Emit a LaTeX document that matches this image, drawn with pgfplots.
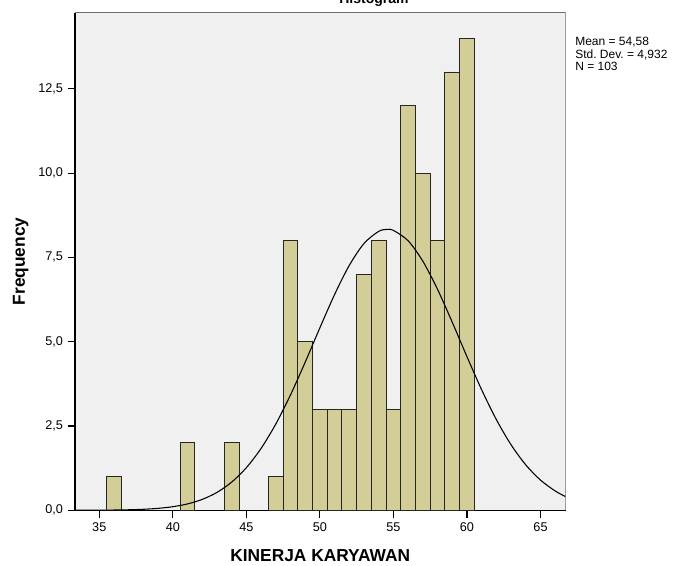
\documentclass[border=0pt]{standalone}
\usepackage{pgfplots}
\pgfplotsset{compat=1.18}
\usepackage{fontspec}
\setmainfont{Liberation Sans}
\frenchspacing
\definecolor{barTan}{HTML}{D3CE97}
\definecolor{plotBg}{HTML}{F0F0F0}
\definecolor{frameGray}{HTML}{6E6E6E}

\begin{document}
\begin{tikzpicture}
\begin{axis}[
    at={(0,0)}, anchor=south west,
    scale only axis,
    width=367.9pt, height=373.2pt,
    xmin=33.35, xmax=66.7,
    ymin=0, ymax=14.76,
    axis x line*=bottom,
    axis y line*=left,
    axis line style={black, line width=0.8pt},
    axis background/.style={fill=plotBg},
    xtick={35,40,...,65},
    ytick={0,2.5,5,7.5,10,12.5},
    tick align=outside,
    major tick length=5.5pt,
    tick style={black, line width=0.8pt},
    /pgf/number format/assume math mode=true,
    ticklabel style={font=\fontsize{9.5}{11}\selectfont},
    yticklabel style={/pgf/number format/.cd, fixed, fixed zerofill, precision=1, use comma},
    xlabel={KINERJA KARYAWAN},
    ylabel={Frequency},
    label style={font=\fontsize{13}{15}\bfseries},
    xlabel style={at={([yshift=-38.5pt]axis description cs:0.5,0)}, anchor=base},
    ylabel style={at={([xshift=-37.5pt]axis description cs:0,0.5)}, anchor=base},
    clip=true,
]
% histogram counts, bins of width 1 centred on integers
\addplot[ybar, bar width=1, fill=barTan, draw=black!85, line width=0.7pt] coordinates {
    (36,1) (41,2) (44,2) (47,1) (48,8) (49,5) (50,3) (51,3) (52,3)
    (53,7) (54,8) (55,3) (56,12) (57,10) (58,8) (59,13) (60,14)
};
% normal curve (mean 54,58, sd 4,932, N 103)
\addplot[smooth, black, line width=0.8pt] coordinates {
    (33.35,0.0008) (34,0.0014) (35,0.0032) (36,0.0069) (37,0.0145) (38,0.0293)
    (39,0.0567) (40,0.1054) (41,0.1881) (42,0.3221) (43,0.5291) (44,0.8346)
    (45,1.2628) (46,1.8345) (47,2.5570) (48,3.4212) (49,4.3926) (50,5.4128)
    (51,6.4011) (52,7.2657) (53,7.9143) (54,8.2736) (54.58,8.331) (55,8.3009)
    (56,7.9928) (57,7.3861) (58,6.5507) (59,5.5756) (60,4.5544) (61,3.5707)
    (62,2.6867) (63,1.9398) (64,1.3442) (65,0.8942) (66,0.5708) (66.7,0.4067)
};
\draw[frameGray, line width=0.8pt] (rel axis cs:0,1) -- (rel axis cs:1,1) -- (rel axis cs:1,0);
\end{axis}
\node[anchor=base, font=\fontsize{10.5}{12}\bfseries] at (224.25pt,380.1pt) {Histogram};
\node[anchor=north west, align=left, inner sep=0pt, font=\fontsize{9}{9.3}\selectfont]
    at (375pt,354.8pt) {Mean = 54,58\\Std. Dev. = 4,932\\N = 103};
\pgfresetboundingbox
\path[use as bounding box] (-56.25pt,-41.8pt) rectangle (452.25pt,382.7pt);
\end{tikzpicture}
\end{document}
